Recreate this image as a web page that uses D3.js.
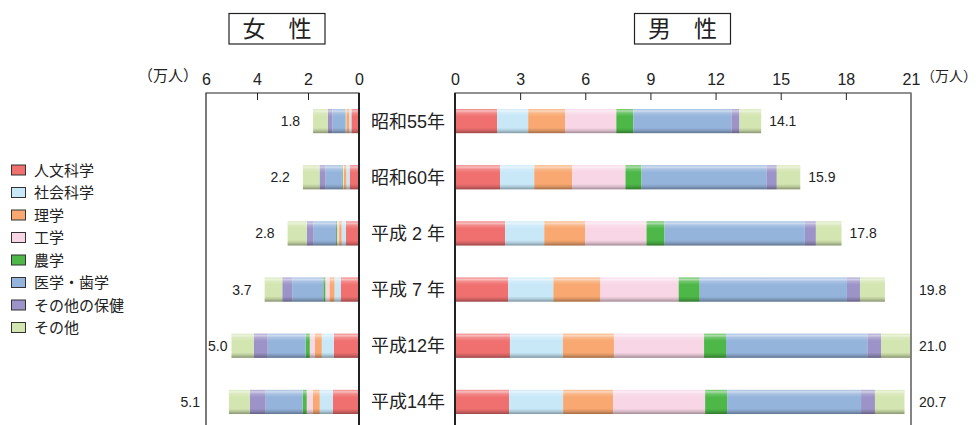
<!DOCTYPE html>
<html>
<head>
<meta charset="utf-8">
<script src="https://cdn.jsdelivr.net/npm/d3@7"></script>
<style>
  body { margin: 0; background: #fff; }
  svg { display: block; font-family: "Liberation Sans", "Noto Sans CJK JP", sans-serif; }
</style>
</head>
<body>
<div id="chart"></div>
<script>
const years = ["昭和55年", "昭和60年", "平成 2 年", "平成 7 年", "平成12年", "平成14年"];
const fields = ["人文科学", "社会科学", "理学", "工学", "農学", "医学・歯学", "その他の保健", "その他"];
const colors = ["#f07070", "#c8e8f8", "#f8a870", "#f8d6e6", "#4db848", "#95b4dc", "#9c94c8", "#d3e5b0"];

// values in 万人, one row per year, in the order of fields
const women = [
    [0.30, 0.08, 0.12, 0.02, 0.01, 0.51, 0.18, 0.58],
    [0.37, 0.13, 0.10, 0.04, 0.03, 0.64, 0.24, 0.65],
    [0.52, 0.16, 0.10, 0.08, 0.04, 0.88, 0.27, 0.75],
    [0.72, 0.24, 0.20, 0.16, 0.08, 1.22, 0.39, 0.69],
    [0.99, 0.47, 0.27, 0.20, 0.16, 1.49, 0.55, 0.87],
    [1.03, 0.51, 0.27, 0.24, 0.16, 1.45, 0.62, 0.82]
];
const men = [
    [1.94, 1.43, 1.71, 2.35, 0.78, 4.52, 0.37, 1.00],
    [2.08, 1.57, 1.75, 2.45, 0.74, 5.77, 0.46, 1.08],
    [2.31, 1.80, 1.89, 2.82, 0.83, 6.46, 0.51, 1.18],
    [2.45, 2.08, 2.17, 3.60, 0.97, 6.78, 0.60, 1.15],
    [2.53, 2.44, 2.35, 4.15, 1.01, 6.51, 0.63, 1.38],
    [2.49, 2.49, 2.30, 4.24, 1.01, 6.17, 0.64, 1.36]
];
const womenTotals = ["1.8", "2.2", "2.8", "3.7", "5.0", "5.1"];
const menTotals = ["14.1", "15.9", "17.8", "19.8", "21.0", "20.7"];
const womenTicks = [0, 2, 4, 6];
const menTicks = [0, 3, 6, 9, 12, 15, 18, 21];

const W = 978, H = 425;
const frameTop = 93;

const svg = d3.select("#chart").append("svg")
    .attr("width", W)
    .attr("height", H);

// gloss overlay for the bars
const defs = svg.append("defs");
const grad = defs.append("linearGradient")
    .attr("id", "gloss")
    .attr("x1", 0).attr("y1", 0).attr("x2", 0).attr("y2", 1);
[[0, "#fff", 0.15], [0.08, "#fff", 0.55], [0.16, "#fff", 0.2], [0.3, "#fff", 0],
 [0.78, "#000", 0], [0.88, "#000", 0.12], [1, "#000", 0.35]].forEach(s => {
    grad.append("stop").attr("offset", s[0]).attr("stop-color", s[1]).attr("stop-opacity", s[2]);
});

// Scales
const xW = d3.scaleLinear().domain([0, 6]).range([359, 206]);
const xM = d3.scaleLinear().domain([0, 21]).range([455, 911]);
const y = d3.scaleBand()
    .domain(years)
    .range([frameTop, frameTop + 6 * 56.17])
    .paddingInner(0.57)
    .paddingOuter(0.285);

// stack each row into [start, end] pairs
function stackRows(rows) {
    return rows.map((vals, i) => {
        let acc = 0;
        return vals.map((v, k) => {
            const seg = { year: years[i], k: k, a: acc, b: acc + v };
            acc += v;
            return seg;
        });
    });
}

function drawBars(rows, x, cls) {
    const segs = stackRows(rows).flat();
    const g = svg.append("g").attr("class", cls);
    g.selectAll("rect.seg")
        .data(segs)
        .enter()
        .append("rect")
        .attr("class", "seg")
        .attr("x", d => Math.min(x(d.a), x(d.b)))
        .attr("y", d => y(d.year))
        .attr("width", d => Math.abs(x(d.b) - x(d.a)))
        .attr("height", y.bandwidth())
        .attr("fill", d => colors[d.k]);
    // gloss on whole bar
    g.selectAll("rect.gloss")
        .data(rows.map((vals, i) => ({ year: years[i], total: d3.sum(vals) })))
        .enter()
        .append("rect")
        .attr("class", "gloss")
        .attr("x", d => Math.min(x(0), x(d.total)))
        .attr("y", d => y(d.year))
        .attr("width", d => Math.abs(x(d.total) - x(0)))
        .attr("height", y.bandwidth())
        .attr("fill", "url(#gloss)");
}

drawBars(women, xW, "women");
drawBars(men, xM, "men");

// Frames
function frame(x) {
    const [a, b] = x.range();
    const l = Math.min(a, b), r = Math.max(a, b);
    svg.append("path")
        .attr("d", `M${l},${H} V${frameTop} H${r} V${H}`)
        .attr("fill", "none")
        .attr("stroke", "#222")
        .attr("stroke-width", 1.2);
}
frame(xW);
frame(xM);
// axes next to the labels are heavier
svg.append("line").attr("x1", xW(0)).attr("x2", xW(0)).attr("y1", frameTop).attr("y2", H)
    .attr("stroke", "#222").attr("stroke-width", 2);
svg.append("line").attr("x1", xM(0)).attr("x2", xM(0)).attr("y1", frameTop).attr("y2", H)
    .attr("stroke", "#222").attr("stroke-width", 2);
svg.append("line").attr("x1", xM(21)).attr("x2", xM(21)).attr("y1", frameTop).attr("y2", H)
    .attr("stroke", "#888").attr("stroke-width", 1.5);

// Axes: inner tick marks + labels above
function axis(x, ticks) {
    const marks = svg.append("g")
        .attr("transform", `translate(0,${frameTop})`)
        .call(d3.axisBottom(x).tickValues(ticks.slice(1, -1)).tickSize(7).tickFormat(""));
    marks.select(".domain").remove();
    marks.selectAll("line").attr("stroke", "#222");

    const labels = svg.append("g")
        .attr("transform", `translate(0,${frameTop - 8})`)
        .call(d3.axisTop(x).tickValues(ticks).tickSize(0).tickPadding(0).tickFormat(d3.format("d")));
    labels.select(".domain").remove();
    labels.selectAll("text")
        .style("font-size", "16px")
        .style("font-family", "'Liberation Sans', 'Noto Sans CJK JP', sans-serif")
        .attr("fill", "#222");
}
axis(xW, womenTicks);
axis(xM, menTicks);

svg.append("text")
    .attr("x", 198).attr("y", 81)
    .attr("text-anchor", "end")
    .style("font-size", "15px")
    .attr("fill", "#222")
    .text("（万人）");
svg.append("text")
    .attr("x", 921).attr("y", 81)
    .style("font-size", "14px")
    .attr("fill", "#222")
    .text("（万人）");

// Panel titles
function title(cx, txt) {
    svg.append("rect")
        .attr("x", cx - 48).attr("y", 13.5)
        .attr("width", 96).attr("height", 30.5)
        .attr("fill", "#fff")
        .attr("stroke", "#222")
        .attr("stroke-width", 1.2);
    svg.append("text")
        .attr("x", cx).attr("y", 37)
        .attr("text-anchor", "middle")
        .style("font-size", "23px")
        .attr("fill", "#222")
        .text(txt);
}
title(277, "女　性");
title(682.5, "男　性");

// Year labels between the panels
svg.append("g").selectAll("text")
    .data(years)
    .enter()
    .append("text")
    .attr("x", 408)
    .attr("y", d => y(d) + y.bandwidth() / 2 + 6.5)
    .attr("text-anchor", "middle")
    .style("font-size", "18px")
    .attr("fill", "#222")
    .text(d => d);

// Totals, women (left of bar)
svg.append("g").selectAll("text")
    .data(women)
    .enter()
    .append("text")
    .attr("y", (d, i) => y(years[i]) + y.bandwidth() / 2 + 5)
    .attr("text-anchor", "end")
    .style("font-size", "14px")
    .attr("fill", "#222")
    .text((d, i) => womenTotals[i])
    .each(function (d) {
        const start = xW(d3.sum(d));
        const w = this.getComputedTextLength();
        let x = start - 13;
        if (x - w < xW(6)) x = start - 4;
        if (x - w < xW(6)) x = xW(6) - 6;
        d3.select(this).attr("x", x);
    });

// Totals, men (right of bar)
svg.append("g").selectAll("text")
    .data(men)
    .enter()
    .append("text")
    .attr("y", (d, i) => y(years[i]) + y.bandwidth() / 2 + 5)
    .style("font-size", "14px")
    .attr("fill", "#222")
    .text((d, i) => menTotals[i])
    .each(function (d) {
        const end = xM(d3.sum(d));
        const w = this.getComputedTextLength();
        let x = end + 8;
        if (x + w > xM(21)) x = xM(21) + 8;
        d3.select(this).attr("x", x);
    });

// Legend
const legend = svg.append("g").attr("transform", "translate(11,170)");
const items = legend.selectAll("g")
    .data(fields)
    .enter()
    .append("g")
    .attr("transform", (d, i) => `translate(0,${i * 22.5})`);
items.append("rect")
    .attr("x", 0.5).attr("y", -5)
    .attr("width", 14).attr("height", 10)
    .attr("fill", (d, i) => colors[i])
    .attr("stroke", "#333")
    .attr("stroke-width", 1);
items.append("text")
    .attr("x", 23).attr("y", 5.5)
    .style("font-size", "15px")
    .attr("fill", "#222")
    .text(d => d);
</script>
</body>
</html>
